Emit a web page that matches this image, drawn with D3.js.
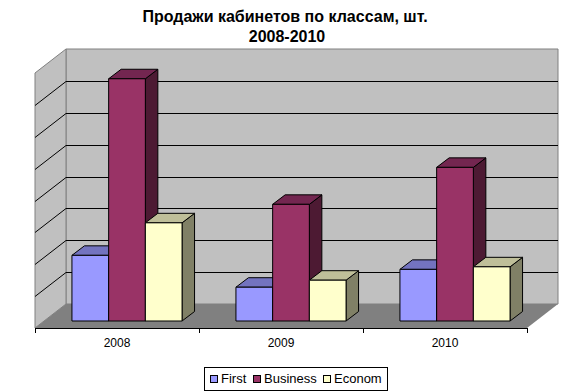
<!DOCTYPE html>
<html><head><meta charset="utf-8">
<script src="https://cdn.jsdelivr.net/npm/d3@7/dist/d3.min.js"></script>
<style>html,body{margin:0;padding:0;background:#fff}svg{display:block}text{font-family:"Liberation Sans",Arial,sans-serif;fill:#000}</style>
</head><body><svg id="c" width="588" height="392"></svg>
<script>
const years = ["2008","2009","2010"];
const seriesNames = ["First","Business","Econom"];
const first = [103,53,81];
const business = [380,183,241];
const econom = [154,64,85];
const titleLines = ["Продажи кабинетов по классам, шт.","2008-2010"];
const colors = {First:["#9999FF","#7373BF","#4D4D80"],Business:["#993366","#732650","#4D1A33"],Econom:["#FFFFCC","#BFBF99","#808066"]};
const values = {First:first,Business:business,Econom:econom};

const svg = d3.select("#c");
const L=35,R=527,FB=328,DX=31,DY=24,TOP=49;
const x = d3.scaleBand().domain(years).range([L,R]);
const barW = 36.7, barOff = 10;
const sx = d3.scaleBand().domain(seriesNames).range([-barW*1.5,barW*1.5]);
const yWall = d3.scaleLinear().domain([0,400]).range([FB-DY,TOP]);
const barBase = 321, ddx = 12.5, ddy = 9.5;
const yBar = v => yWall(v)+(barBase-yWall(0));
const pts = a => a.map(p=>p.join(",")).join(" ");

// walls and floor
svg.append("polygon").attr("points",pts([[L+DX,TOP],[R+DX,TOP],[R+DX,FB-DY],[L+DX,FB-DY]])).attr("fill","#C0C0C0").attr("stroke","#808080");
svg.append("polygon").attr("points",pts([[L,TOP+DY],[L+DX,TOP],[L+DX,FB-DY],[L,FB]])).attr("fill","#C0C0C0").attr("stroke","#808080");
svg.append("polygon").attr("points",pts([[L,FB],[L+DX,FB-DY],[R+DX,FB-DY],[R,FB]])).attr("fill","#808080");

// gridlines
const ticks = yWall.ticks(8).filter(t=>t>0&&t<400);
svg.selectAll(".g").data(ticks).join("path").attr("fill","none").attr("stroke","#000").attr("stroke-width",1)
  .attr("d",t=>`M${L},${Math.round(yWall(t))+DY+.5}L${L+DX},${Math.round(yWall(t))+.5}H${R+DX}`);

// bars
years.forEach((yr,i)=>{
  seriesNames.forEach(s=>{
    const x0 = x(yr)+x.bandwidth()/2+barOff+sx(s), x1 = x0+sx.bandwidth();
    const yt = yBar(values[s][i]), g = svg.append("g").attr("stroke","#000").attr("stroke-width",1).attr("stroke-linejoin","round");
    g.append("polygon").attr("fill",colors[s][2]).attr("points",pts([[x1,yt],[x1+ddx,yt-ddy],[x1+ddx,barBase-ddy],[x1,barBase]]));
    g.append("polygon").attr("fill",colors[s][1]).attr("points",pts([[x0,yt],[x0+ddx,yt-ddy],[x1+ddx,yt-ddy],[x1,yt]]));
    g.append("rect").attr("fill",colors[s][0]).attr("x",x0).attr("y",yt).attr("width",x1-x0).attr("height",barBase-yt);
  });
});

// axis
const ax = svg.append("g");
ax.append("line").attr("x1",L).attr("x2",R).attr("y1",FB+.5).attr("y2",FB+.5).attr("stroke","#000");
[...years.map(y=>x(y)),R].forEach(t=>ax.append("line").attr("x1",t+.5).attr("x2",t+.5).attr("y1",FB).attr("y2",FB+5).attr("stroke","#000"));
svg.selectAll(".yr").data(years).join("text").attr("x",y=>x(y)+x.bandwidth()/2).attr("y",347).attr("text-anchor","middle").attr("font-size",12).text(y=>y);

// title
svg.selectAll(".t").data(titleLines).join("text").attr("x",(d,i)=>i?287:285).attr("y",(d,i)=>22+i*20).attr("text-anchor","middle").attr("font-size",16).attr("font-weight","bold").text(d=>d);

// legend
svg.append("rect").attr("x",204.5).attr("y",367.5).attr("width",183).attr("height",23).attr("fill","#fff").attr("stroke","#000");
const lx = d3.scaleOrdinal().domain(seriesNames).range([210.5,253.5,323.5]);
const lg = svg.selectAll(".l").data(seriesNames).join("g");
lg.append("rect").attr("x",s=>lx(s)).attr("y",375.5).attr("width",7).attr("height",7).attr("fill",s=>colors[s][0]).attr("stroke","#000");
lg.append("text").attr("x",s=>lx(s)+10.5).attr("y",383).attr("font-size",13).text(s=>s);
</script></body></html>
